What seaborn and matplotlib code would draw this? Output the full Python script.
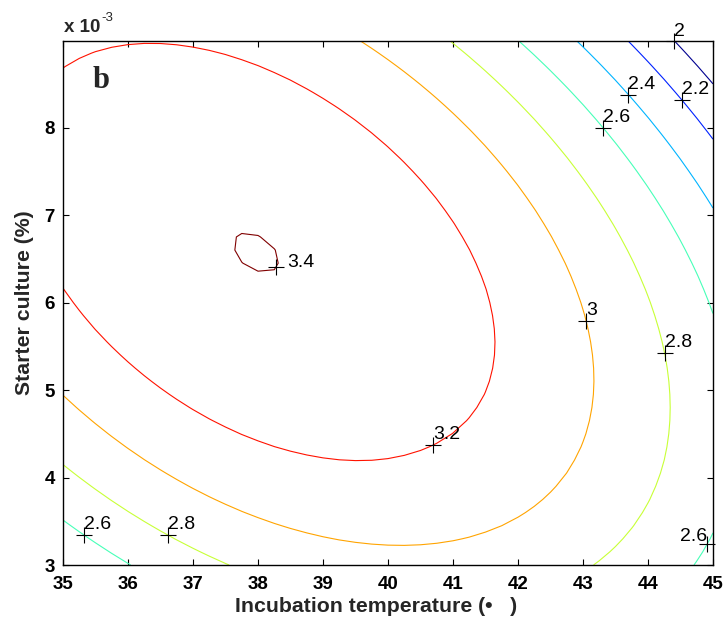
import numpy as np
import matplotlib
matplotlib.use("Agg")
import matplotlib.pyplot as plt
from matplotlib.colors import LinearSegmentedColormap
import seaborn as sns
import pandas as pd

# Points: incubation temperature (deg C) and
# starter culture (units of 1e-3 %)
x20 = [44.41, 44.74, 45.0]
u20 = [9.0, 8.72, 8.51]
x22 = [43.67, 44.08, 44.51, 44.74, 45.0]
u22 = [9.0, 8.72, 8.31, 8.10, 7.87]
x24 = [42.87, 43.26, 43.69, 44.23, 44.74, 45.0]
u24 = [9.0, 8.76, 8.37, 7.87, 7.41, 7.10]
x26 = [41.99, 42.64, 43.31, 43.97, 44.49, 44.85, 45.0, 44.89, 44.73, 35.98, 35.0]
u26 = [9.0, 8.53, 8.0, 7.37, 6.75, 6.17, 5.9, 3.25, 3.0, 3.0, 3.50]
x28 = [40.97, 41.51, 42.08, 42.69, 43.21, 43.56, 43.97, 44.15, 44.24, 44.34,
       44.21, 43.89, 43.17, 37.54, 36.63, 35.60, 35.0]
u28 = [9.0, 8.64, 8.25, 7.68, 7.06, 6.67, 6.13, 5.69, 5.42, 4.85,
       4.13, 3.52, 3.0, 3.0, 3.35, 3.86, 4.13]
x30 = [39.52, 40.09, 40.75, 41.41, 41.97, 42.54, 42.79, 43.0, 43.16, 43.16, 42.98,
       42.59, 42.07, 41.17, 40.26, 39.48, 38.58, 37.80, 37.02, 36.24, 35.60, 35.0]
u30 = [9.0, 8.76, 8.33, 7.87, 7.37, 6.83, 6.44, 5.98, 5.35, 4.85, 4.35,
       3.90, 3.59, 3.32, 3.24, 3.27, 3.40, 3.59, 3.86, 4.20, 4.62, 4.93]
x32 = [35.0, 36.39, 37.27, 38.24, 38.75, 39.47, 39.98, 40.29, 40.75, 41.16, 41.47,
       41.62, 41.67, 41.49, 41.17, 40.71, 40.26, 39.61, 38.83, 37.99, 37.31, 36.63,
       36.08, 35.60, 35.0]
u32 = [8.69, 8.96, 8.87, 8.64, 8.43, 8.08, 7.79, 7.56, 7.19, 6.75, 6.27,
       5.84, 5.56, 4.97, 4.58, 4.36, 4.25, 4.20, 4.24, 4.42, 4.64, 4.97,
       5.25, 5.61, 6.13]
x34 = [37.57, 37.75, 38.04, 38.24, 38.38, 38.24, 38.04, 37.75, 37.57]
u34 = [6.75, 6.82, 6.78, 6.67, 6.42, 6.29, 6.30, 6.40, 6.59]

levels = [2.0, 2.2, 2.4, 2.6, 2.8, 3.0, 3.2, 3.4]
traces = [(x20, u20), (x22, u22), (x24, u24), (x26, u26),
          (x28, u28), (x30, u30), (x32, u32), (x34, u34)]

# Contour label anchors and text offsets (points)
label_level = [2.0, 2.2, 2.4, 2.6, 2.6, 2.6, 2.8, 2.8, 3.0, 3.2, 3.4]
label_x = [44.41, 44.51, 43.69, 43.31, 44.89, 35.32, 44.26, 36.62, 43.04, 40.70, 38.32]
label_u = [9.0, 8.31, 8.37, 8.0, 3.25, 3.34, 5.42, 3.35, 5.79, 4.36, 6.39]
label_dx = [0, 0, 0, 0, 0, 0, 0, 0, 0, 0, 8]
label_dy = [3, 4.3, 4.3, 4.3, 2, 4.3, 4.3, 4.3, 4.3, 4.3, 0]
label_ha = ["left"] * 4 + ["right"] + ["left"] * 6

x_ticks = [35, 36, 37, 38, 39, 40, 41, 42, 43, 44, 45]
u_ticks = [3, 4, 5, 6, 7, 8]
color_limits = (1.96, 3.42)

# Classic "jet" ramp (blue -> cyan -> yellow -> red -> dark red)
jet_classic = LinearSegmentedColormap("jet_classic", {
    "red":   [(0, 0, 0), (3 / 8, 0, 0), (5 / 8, 1, 1), (7 / 8, 1, 1), (1, 0.5, 0.5)],
    "green": [(0, 0, 0), (1 / 8, 0, 0), (3 / 8, 1, 1), (5 / 8, 1, 1), (7 / 8, 0, 0), (1, 0, 0)],
    "blue":  [(0, 0.5, 0.5), (1 / 8, 1, 1), (3 / 8, 1, 1), (5 / 8, 0, 0), (1, 0, 0)],
}, N=64)


def design(x, u):
    dx = np.asarray(x, dtype=float) - 40.0
    du = np.asarray(u, dtype=float) - 6.0
    return np.column_stack([np.ones_like(dx), dx, du, dx * dx, du * du, dx * du,
                            dx ** 3, du ** 3, dx * dx * du, dx * du * du])


# Response surface fitted to the traced contours
pts = pd.DataFrame({
    "x": np.concatenate([t[0] for t in traces]),
    "u": np.concatenate([t[1] for t in traces]),
    "z": np.concatenate([[lv] * len(t[0]) for lv, t in zip(levels, traces)]),
})
coef = np.linalg.lstsq(design(pts["x"], pts["u"]), pts["z"].to_numpy(), rcond=None)[0]

sns.set_style("ticks")
plt.rcParams["font.family"] = ["Liberation Sans", "DejaVu Sans"]

fig = plt.figure(figsize=(7.23, 6.25), dpi=100)
ax = fig.add_axes([63 / 723, 60 / 625, 650 / 723, 524 / 625])

xg = np.linspace(35, 45, 41)
ug = np.linspace(3, 9, 41)
XX, UU = np.meshgrid(xg, ug)
ZZ = (design(XX.ravel(), UU.ravel()) @ coef).reshape(XX.shape)

norm = plt.Normalize(*color_limits)
cs = ax.contour(xg, ug * 1e-3, ZZ, levels=levels, cmap=jet_classic, norm=norm,
                linewidths=0.8)

ax.set_xlim(35, 45)
ax.set_ylim(3e-3, 8.99e-3)

# Snap each label anchor onto its computed contour (in display space)
fig.canvas.draw()
tr = ax.transData
snap_x, snap_y = [], []
for lv, lx, lu in zip(label_level, label_x, label_u):
    i = levels.index(lv)
    p = tr.transform([[lx, lu * 1e-3]])[0]
    best, bq = p, np.inf
    for seg in cs.allsegs[i]:
        if len(seg) < 2:
            continue
        s = tr.transform(seg)
        a, b = s[:-1], s[1:]
        d = b - a
        t = np.clip(((p - a) * d).sum(1) / np.maximum((d * d).sum(1), 1e-12), 0, 1)
        q = a + d * t[:, None]
        dist = ((q - p) ** 2).sum(1)
        k = dist.argmin()
        if dist[k] < bq:
            bq, best = dist[k], q[k]
    data_pt = tr.inverted().transform([best])[0]
    snap_x.append(data_pt[0])
    snap_y.append(data_pt[1])

marks = pd.DataFrame({"x": snap_x, "y": snap_y, "level": label_level})
sns.scatterplot(data=marks, x="x", y="y", marker="+", s=130, color="black",
                linewidth=0.8, ax=ax, legend=False, zorder=5, clip_on=False)
for xv, yv, lv, ox, oy, ha in zip(snap_x, snap_y, label_level,
                                  label_dx, label_dy, label_ha):
    ax.annotate(f"{lv:g}", (xv, yv), xytext=(ox, oy), textcoords="offset points",
                ha=ha, va="baseline", fontsize=14, color="black",
                annotation_clip=False)

ax.set_xticks(x_ticks)
ax.set_yticks([v * 1e-3 for v in u_ticks])
ax.set_xticklabels([str(v) for v in x_ticks], fontweight="bold")
ax.set_yticklabels([str(v) for v in u_ticks], fontweight="bold")
ax.tick_params(direction="in", length=4.2, width=0.8, top=True, right=True,
               labelsize=13.5, colors="black")
ax.tick_params(axis="x", pad=8)
ax.tick_params(axis="y", pad=6)
for side in ax.spines.values():
    side.set_linewidth(1.0)
    side.set_color("black")

ax.set_xlabel("Incubation temperature (\u2022   )", fontsize=15.3,
              fontweight="bold", labelpad=2)
ax.xaxis.set_label_coords((376 - 63) / 650, -0.062)
ax.set_ylabel("Starter culture (%)", fontsize=15.3, fontweight="bold",
              labelpad=7)

# Axis multiplier written as "x 10" with a raised exponent right after it
mult = fig.text(64 / 723, 1 - 32 / 625, "x 10", fontsize=13.5, fontweight="bold",
                ha="left", va="baseline")
fig.canvas.draw()
mult_end = mult.get_window_extent().x1 / fig.bbox.width
fig.text(mult_end + 1 / 723, 1 - 21 / 625, "-3", fontsize=9.5,
         ha="left", va="baseline")

ax.text(0.046, 0.91, "b", transform=ax.transAxes, fontsize=22,
        fontweight="bold", family=["Liberation Serif", "DejaVu Serif"],
        ha="left", va="baseline")

fig.savefig("out.png", dpi=100)
